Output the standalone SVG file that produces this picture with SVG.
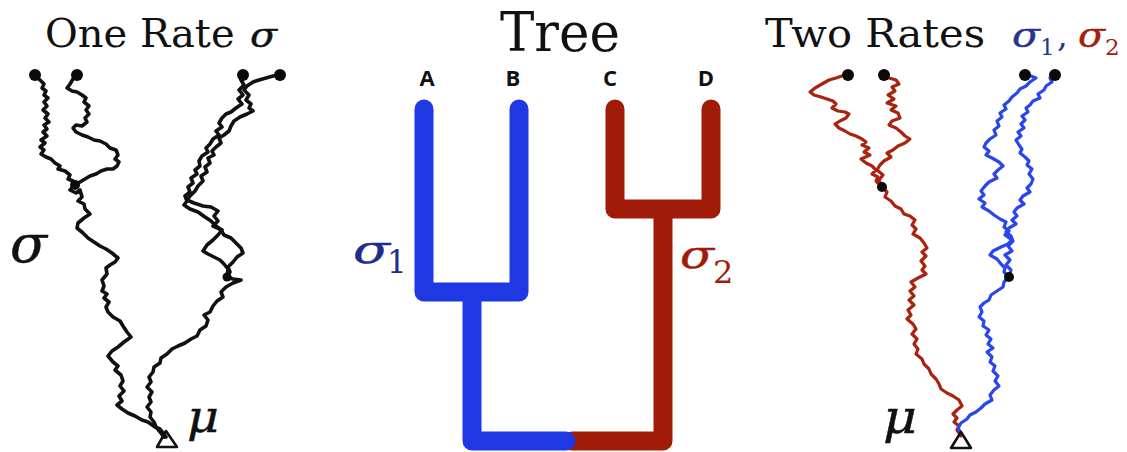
<svg xmlns="http://www.w3.org/2000/svg" width="1127" height="452" viewBox="0 0 1127 452">
<style>
.ttl{font-family:"DejaVu Serif","Liberation Serif",serif;fill:#111}
.mi{font-family:"DejaVu Serif","Liberation Serif",serif;font-style:italic;stroke-width:0.45;stroke-linejoin:round}
.sub{font-family:"DejaVu Serif","Liberation Serif",serif}
.tip{font-family:"Open Sans","DejaVu Sans",sans-serif;font-weight:700;font-size:22px;fill:#111;text-anchor:middle}
.bw{fill:none;stroke:#111;stroke-width:3.6;stroke-linejoin:round;stroke-linecap:round}
.rw{fill:none;stroke:#a8240f;stroke-width:3.2;stroke-linejoin:round;stroke-linecap:round}
.uw{fill:none;stroke:#2b46ea;stroke-width:3.2;stroke-linejoin:round;stroke-linecap:round}
.dot{fill:#0a0a0a}
.root{fill:none;stroke:#111;stroke-width:2.6;stroke-linejoin:round}
.tb{fill:none;stroke:#2038e4;stroke-width:19;stroke-linecap:round;stroke-linejoin:round}
.tr{fill:none;stroke:#a01b08;stroke-width:19;stroke-linecap:round;stroke-linejoin:round}
</style>
<rect width="1127" height="452" fill="#fff"/>

<g id="panel-one-rate">
<text class="ttl" x="45" y="47" font-size="40">One Rate</text>
<text class="mi" x="250" y="47" font-size="34" fill="#111" stroke="#111" textLength="27" lengthAdjust="spacingAndGlyphs">σ</text>
<text class="mi" x="10" y="262" font-size="52" fill="#111" stroke="#111" textLength="37" lengthAdjust="spacingAndGlyphs">σ</text>
<text class="mi" x="187" y="432" font-size="44" fill="#111" stroke="#111" textLength="32" lengthAdjust="spacingAndGlyphs">μ</text>
<g id="walks-one-rate">
<path class="bw" d="M35,75 L39,79 L44,84 L42,88 L46,91 L44,95 L48,98 L44,102 L47,106 L43,110 L48,114 L45,118 L49,122 L44,125 L47,129 L43,132 L47,136 L41,140 L45,143 L40,147 L44,150 L41,154 L46,157 L51,159 L55,163 L60,166 L58,169 L65,171 L70,175 L68,179 L73,181 L75,185"/>
<path class="bw" d="M77,75 L73,79 L70,84 L67,88 L72,91 L77,92 L82,95 L86,98 L84,102 L89,106 L86,110 L89,114 L85,118 L87,122 L82,126 L76,125 L73,128 L76,132 L82,135 L88,137 L94,140 L100,141 L106,144 L110,148 L116,150 L118,155 L115,159 L119,162 L117,166 L113,169 L107,169 L101,171 L96,174 L90,176 L85,179 L80,182 L75,185"/>
<path class="bw" d="M75,185 L70,190 L76,193 L80,190 L82,197 L78,201 L84,204 L85,209 L90,214 L84,218 L78,223 L77,228 L83,233 L88,238 L94,242 L100,246 L106,249 L112,253 L118,258 L115,262 L110,265 L106,268 L107,274 L102,280 L104,286 L102,291 L107,294 L104,298 L109,302 L106,307 L108,312 L113,317 L120,321 L123,326 L127,332 L131,337 L124,342 L118,347 L112,351 L108,356 L113,362 L118,366 L115,370 L121,375 L123,381 L120,386 L124,391 L119,396 L122,401 L117,405 L122,409 L128,413 L135,416 L142,420 L148,422 L155,427 L160,429 L163,433 L166,437"/>
<path class="bw" d="M243,75 L241,80 L244,85 L239,90 L243,95 L238,99 L242,104 L236,108 L231,112 L226,114 L222,118 L219,123 L222,127 L216,131 L219,135 L213,139 L210,144 L206,148 L208,152 L202,156 L199,161 L200,166 L195,170 L197,174 L191,178 L193,183 L188,187 L190,192 L185,196 L187,201 L184,205 L190,209 L198,212 L205,217 L211,221 L216,226 L221,230 L224,235 L231,238 L236,243 L241,248 L243,253 L237,257 L233,262 L228,267 L230,272 L227,277"/>
<path class="bw" d="M280,75 L273,76 L266,78 L259,80 L253,82 L247,86 L244,90 L249,95 L246,100 L251,104 L249,108 L253,111 L247,114 L240,117 L234,121 L231,126 L229,131 L224,135 L219,138 L221,143 L216,147 L212,151 L214,155 L208,158 L210,163 L205,167 L207,172 L201,176 L203,181 L198,186 L195,191 L190,196 L187,200 L194,203 L203,206 L211,207 L218,211 L214,216 L218,221 L213,226 L222,230 L218,235 L213,240 L207,245 L203,251 L208,254 L214,257 L220,260 L224,264 L228,269 L227,277"/>
<path class="bw" d="M227,277 L233,279 L241,280 L233,283 L226,287 L221,292 L223,297 L217,301 L213,306 L210,312 L204,315 L208,320 L206,326 L200,330 L197,336 L191,339 L185,343 L178,346 L172,349 L167,354 L161,358 L160,363 L154,367 L153,372 L149,377 L151,382 L147,387 L152,392 L149,397 L151,402 L147,407 L151,412 L150,417 L154,422 L156,427 L160,432 L164,437"/>
</g>
<circle class="dot" cx="35" cy="75" r="6"/>
<circle class="dot" cx="77" cy="75" r="6"/>
<circle class="dot" cx="243" cy="75" r="6"/>
<circle class="dot" cx="280" cy="75" r="6"/>
<circle class="dot" cx="75" cy="185" r="5"/>
<circle class="dot" cx="227" cy="277" r="4.5"/>
<polygon class="root" points="166,431 157,447 177,447"/>
</g>

<g id="tree">
<text class="ttl" x="500" y="51" font-size="54" textLength="120" lengthAdjust="spacingAndGlyphs">Tree</text>
<text class="tip" x="427" y="86">A</text>
<text class="tip" x="513" y="86">B</text>
<text class="tip" x="610" y="86">C</text>
<text class="tip" x="706" y="86">D</text>
<g id="tree-branches">
<path class="tr" d="M615,109 V209 H711 V109 M663,209 V441 H572"/>
<path class="tb" d="M424,109 V292 H519 V109 M472,292 V441 H566"/>
</g>
<text class="mi" x="353" y="263" font-size="40" fill="#1f2d8a" stroke="#1f2d8a" textLength="37" lengthAdjust="spacingAndGlyphs">σ</text>
<text class="sub" x="387" y="273" font-size="31" fill="#1f2d8a">1</text>
<text class="mi" x="680" y="268" font-size="40" fill="#a01b08" stroke="#a01b08" textLength="34" lengthAdjust="spacingAndGlyphs">σ</text>
<text class="sub" x="713" y="283" font-size="32" fill="#a01b08">2</text>
</g>

<g id="panel-two-rates">
<text class="ttl" x="765" y="47" font-size="40" textLength="220" lengthAdjust="spacingAndGlyphs">Two Rates</text>
<text class="mi" x="1012" y="47" font-size="34" fill="#27358f" stroke="#27358f" textLength="28" lengthAdjust="spacingAndGlyphs">σ</text>
<text class="sub" x="1040" y="55" font-size="23" fill="#27358f">1</text>
<text class="sub" x="1057" y="47" font-size="34" fill="#27358f">,</text>
<text class="mi" x="1078" y="47" font-size="34" fill="#a3200e" stroke="#a3200e" textLength="27" lengthAdjust="spacingAndGlyphs">σ</text>
<text class="sub" x="1105" y="55" font-size="23" fill="#a3200e">2</text>
<text class="mi" x="883" y="433" font-size="46" fill="#111" stroke="#111" textLength="34" lengthAdjust="spacingAndGlyphs">μ</text>
<g id="walks-two-rates">
<path class="rw" d="M848,75 L842,76 L836,78 L829,80 L822,84 L815,88 L810,92 L814,95 L821,97 L827,99 L833,101 L836,104 L832,108 L838,111 L845,112 L849,114 L846,118 L840,121 L835,124 L839,128 L845,131 L850,134 L856,136 L862,139 L866,142 L862,145 L869,148 L864,152 L870,155 L861,159 L866,163 L872,166 L876,170 L872,174 L878,177 L876,181 L882,187"/>
<path class="rw" d="M884,75 L889,78 L896,80 L899,84 L892,87 L895,91 L888,95 L894,99 L887,103 L896,106 L891,110 L898,113 L900,118 L892,121 L889,125 L896,128 L901,132 L905,136 L910,139 L905,143 L898,146 L893,150 L887,153 L891,157 L884,161 L880,165 L877,170 L883,175 L879,180 L882,187"/>
<path class="rw" d="M882,187 L887,192 L885,197 L891,201 L895,206 L901,209 L904,214 L910,216 L915,220 L912,225 L916,229 L913,234 L920,238 L924,243 L927,248 L922,252 L926,256 L921,261 L925,266 L922,270 L926,274 L918,278 L911,282 L915,287 L910,291 L914,296 L909,300 L914,305 L908,310 L911,315 L907,319 L913,324 L916,329 L912,334 L917,339 L914,344 L918,349 L916,354 L922,359 L924,364 L929,369 L931,374 L936,379 L939,384 L941,389 L947,393 L953,396 L959,400 L962,406 L957,410 L953,414 L957,418 L954,422 L959,426 L957,430 L961,436"/>
<path class="uw" d="M1025,75 L1031,76 L1036,78 L1030,82 L1026,86 L1020,89 L1017,93 L1012,97 L1009,101 L1004,105 L1006,109 L1000,113 L1002,117 L997,121 L999,126 L994,130 L996,135 L990,139 L986,143 L984,147 L989,151 L986,155 L992,158 L999,162 L1003,166 L998,170 L994,174 L997,178 L989,182 L985,186 L981,191 L984,195 L979,199 L985,203 L982,207 L989,211 L994,215 L1000,219 L1006,222 L1004,227 L1009,231 L1005,235 L1012,240 L1008,244 L1001,247 L993,251 L990,255 L997,259 L1001,264 L1005,268 L1004,272 L1009,277"/>
<path class="uw" d="M1055,75 L1050,78 L1052,82 L1046,86 L1044,90 L1038,94 L1040,98 L1033,101 L1030,105 L1026,108 L1028,112 L1022,116 L1025,120 L1021,124 L1024,128 L1018,132 L1021,136 L1016,140 L1019,145 L1022,149 L1020,153 L1025,157 L1029,161 L1027,165 L1032,169 L1029,174 L1033,179 L1031,184 L1027,188 L1030,192 L1023,196 L1020,200 L1024,204 L1017,208 L1014,212 L1017,216 L1012,220 L1016,224 L1009,228 L1006,232 L1011,236 L1013,241 L1008,246 L1012,251 L1005,255 L1010,260 L1006,265 L1011,270 L1009,277"/>
<path class="uw" d="M1009,277 L1004,282 L1003,287 L997,291 L991,295 L989,300 L984,303 L980,307 L982,312 L979,317 L984,321 L983,326 L989,330 L986,335 L991,339 L988,344 L993,348 L987,352 L992,357 L990,362 L995,366 L993,371 L998,376 L995,381 L999,386 L994,390 L990,395 L992,400 L985,404 L981,408 L976,412 L970,415 L967,419 L961,423 L958,428 L961,433"/>
</g>
<circle class="dot" cx="848" cy="75" r="6"/>
<circle class="dot" cx="884" cy="75" r="6"/>
<circle class="dot" cx="1025" cy="75" r="6"/>
<circle class="dot" cx="1055" cy="75" r="6"/>
<circle class="dot" cx="882" cy="187" r="5"/>
<circle class="dot" cx="1009" cy="277" r="5"/>
<polygon class="root" points="961,432 951,448 971,448"/>
</g>
</svg>
